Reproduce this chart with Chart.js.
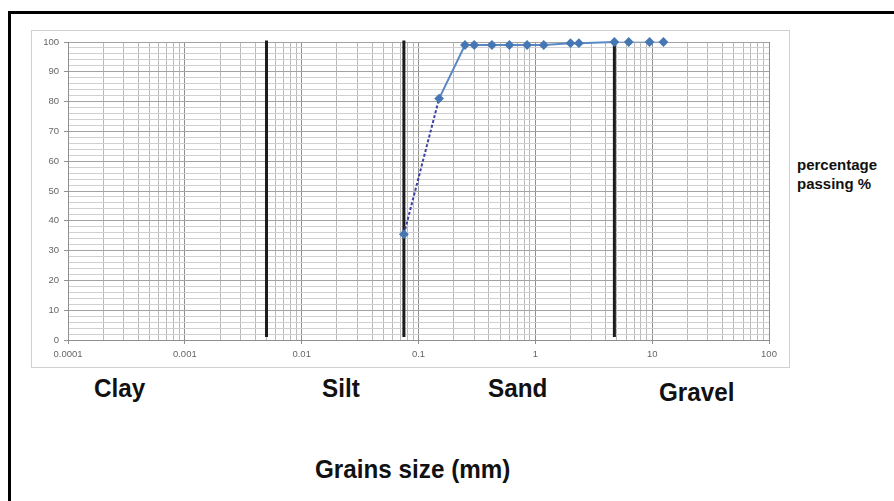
<!DOCTYPE html>
<html>
<head>
<meta charset="utf-8">
<script src="https://cdn.jsdelivr.net/npm/chart.js@4/dist/chart.umd.min.js"></script>
<style>
  html, body { margin: 0; padding: 0; background: #fff; overflow: hidden; }
  body { width: 894px; height: 501px; position: relative; }
  .frame-outer { position: absolute; left: 8px; top: 11px; width: 1000px; height: 600px;
                 border-left: 3px solid #000; border-top: 3px solid #000; }
  .frame-chart { position: absolute; left: 31px; top: 30px; width: 757px; height: 336px;
                 border: 1px solid #d0d0d0; }
  #gradChart { position: absolute; left: 32px; top: 31px; }
  .lbl { position: absolute; font-family: "Liberation Sans Narrow", "Arial Narrow", "Liberation Sans", sans-serif;
         font-weight: bold; font-size: 25px; color: #111; white-space: nowrap;
         transform: scaleX(0.97); transform-origin: left center; }
  .ytitle { position: absolute; left: 797px; top: 155px; font-family: "Liberation Sans", Arial, sans-serif;
            font-weight: bold; font-size: 15px; line-height: 19px; color: #111; white-space: nowrap; }
</style>
</head>
<body>
<div class="frame-outer"></div>
<div class="frame-chart"></div>
<canvas id="gradChart" width="757" height="336"></canvas>

<div class="lbl" style="left:94px; top:374px;">Clay</div>
<div class="lbl" style="left:322px; top:374px;">Silt</div>
<div class="lbl" style="left:488px; top:374px;">Sand</div>
<div class="lbl" style="left:659px; top:378px;">Gravel</div>
<div class="lbl" style="left:315px; top:455px;">Grains size (mm)</div>
<div class="ytitle">percentage<br>passing %</div>

<script>
// sieve sizes (mm) and cumulative percent passing
const sieveSizes = [0.075, 0.15, 0.25, 0.3, 0.425, 0.6, 0.85, 1.18, 2, 2.36, 4.75, 6.3, 9.5, 12.5];
const percentPassing = [35.5, 81, 99, 99, 99, 99, 99, 99, 99.6, 99.6, 100, 100, 100, 100];

// clay/silt, silt/sand and sand/gravel limits (mm)
const soilBoundaries = [0.005, 0.075, 4.75];

// axis labels
const xTickLabels = ['0.0001', '0.001', '0.01', '0.1', '1', '10', '100'];
const yTickLabels = [0, 10, 20, 30, 40, 50, 60, 70, 80, 90, 100];

const isDecade = v => Math.abs(Math.log10(v) - Math.round(Math.log10(v))) < 1e-9;

const boundarySets = soilBoundaries.map(b => ({
  data: [{ x: b, y: 1 }, { x: b, y: 100.5 }],
  borderColor: '#1c1c1c',
  borderWidth: 3,
  pointRadius: 0,
  clip: false,
  order: 2
}));

new Chart(document.getElementById('gradChart'), {
  type: 'line',
  data: {
    datasets: [{
      data: sieveSizes.map((s, i) => ({ x: s, y: percentPassing[i] })),
      borderColor: '#5a88c4',
      borderWidth: 2,
      pointStyle: 'rectRot',
      pointRadius: 3.5,
      pointBackgroundColor: '#4677b4',
      pointBorderColor: '#4677b4',
      tension: 0,
      clip: false,
      order: 1,
      segment: {
        borderColor: ctx => ctx.p0DataIndex === 0 ? '#3d3fa8'
          : (ctx.p0DataIndex >= 10 ? 'rgba(90,136,196,0.3)' : undefined),
        borderDash: ctx => ctx.p0DataIndex === 0 ? [3, 2] : undefined
      }
    }, ...boundarySets]
  },
  options: {
    responsive: false,
    animation: false,
    layout: { padding: { top: 11, right: 20, left: 0, bottom: 0 } },
    plugins: { legend: { display: false }, tooltip: { enabled: false } },
    scales: {
      x: {
        type: 'logarithmic',
        min: 0.0001,
        max: 100,
        afterBuildTicks: scale => {
          const ticks = [];
          xTickLabels.forEach((lbl, d) => {
            const base = parseFloat(lbl);
            const top = d === xTickLabels.length - 1 ? 1 : 9;
            for (let k = 1; k <= top; k++) ticks.push({ value: base * k });
          });
          scale.ticks = ticks;
        },
        afterFit: scale => { scale.height = 27; },
        ticks: {
          autoSkip: false,
          maxRotation: 0,
          padding: 5,
          color: '#666',
          font: { family: 'Liberation Sans', size: 9.5 },
          callback: v => {
            if (!isDecade(v)) return '';
            const idx = Math.round(Math.log10(v)) + 4;
            return xTickLabels[idx];
          }
        },
        grid: {
          color: ctx => ctx.tick && isDecade(ctx.tick.value) ? '#8f8f8f' : '#b9b9b9',
          tickColor: ctx => ctx.tick && isDecade(ctx.tick.value) ? '#8f8f8f' : 'rgba(0,0,0,0)',
          tickLength: 4,
          lineWidth: 1
        },
        border: { color: '#8f8f8f' }
      },
      y: {
        min: 0,
        max: 100,
        afterBuildTicks: scale => {
          const ticks = [];
          for (let v = 0; v <= 100; v += 2) ticks.push({ value: v });
          scale.ticks = ticks;
        },
        afterFit: scale => { scale.width = 36; },
        ticks: {
          autoSkip: false,
          padding: 5,
          color: '#666',
          font: { family: 'Liberation Sans', size: 9.5 },
          callback: v => yTickLabels.includes(v) ? String(v) : ''
        },
        grid: {
          color: ctx => ctx.tick && ctx.tick.value % 10 === 0 ? '#a3a3a3' : '#d0d0d0',
          tickColor: ctx => ctx.tick && ctx.tick.value % 10 === 0 ? '#8f8f8f' : 'rgba(0,0,0,0)',
          tickLength: 4,
          lineWidth: 1
        },
        border: { color: '#8f8f8f' }
      }
    }
  }
});
</script>
</body>
</html>
